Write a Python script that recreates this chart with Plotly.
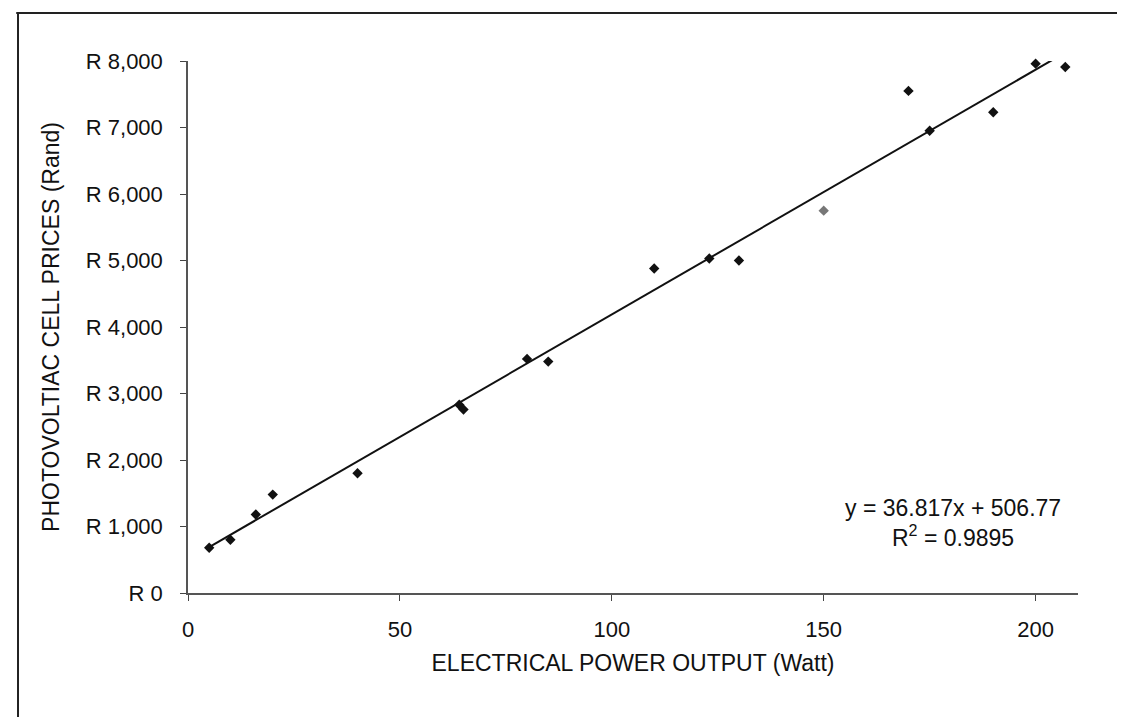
import plotly.graph_objects as go

# Data
power_w = [5, 10, 16, 20, 40, 64, 65, 80, 85, 110, 123, 130, 150, 170, 175, 190, 200, 207]
price_rand = [680, 800, 1180, 1480, 1800, 2830, 2760, 3520, 3480, 4880, 5030, 5000, 5750, 7550, 6950, 7230, 7960, 7910]
point_colors = ["#111111"] * 12 + ["#777777"] + ["#111111"] * 5

slope = 36.817
intercept = 506.77
r_squared = 0.9895

x_ticks = [0, 50, 100, 150, 200]
y_ticks = [0, 1000, 2000, 3000, 4000, 5000, 6000, 7000, 8000]
y_tick_labels = ["R 0", "R 1,000", "R 2,000", "R 3,000", "R 4,000", "R 5,000", "R 6,000", "R 7,000", "R 8,000"]

trend_x = [min(power_w), max(power_w)]
trend_y = [slope * v + intercept for v in trend_x]

font_family = "Liberation Sans, Arial, sans-serif"

fig = go.Figure()
fig.add_trace(go.Scatter(
    x=trend_x, y=trend_y, mode="lines",
    line=dict(color="#111111", width=2), showlegend=False, hoverinfo="skip"))
fig.add_trace(go.Scatter(
    x=power_w, y=price_rand, mode="markers",
    marker=dict(symbol="diamond", size=8, color=point_colors),
    cliponaxis=False, showlegend=False))

fig.add_annotation(
    x=180.5, y=1050, xref="x", yref="y",
    text=f"y = {slope}x + {intercept}<br>R<sup>2</sup> = {r_squared}",
    showarrow=False, align="center",
    font=dict(family=font_family, size=23, color="#111111"))

# Scan border (top and left edges)
fig.add_shape(type="line", xref="paper", yref="paper", x0=-0.193, x1=1.07, y0=1.09, y1=1.09,
              line=dict(color="#222222", width=2))
fig.add_shape(type="line", xref="paper", yref="paper", x0=-0.191, x1=-0.191, y0=1.09, y1=-0.26,
              line=dict(color="#222222", width=2))

fig.update_layout(
    width=1125, height=717,
    margin=dict(l=180, r=55, t=53, b=132),
    paper_bgcolor="white", plot_bgcolor="white",
    font=dict(family=font_family, size=22, color="#111111"),
    xaxis=dict(
        range=[0, 210], tickvals=x_ticks, ticks="outside", ticklen=6, tickcolor="#444444",
        showline=True, linecolor="#555555", linewidth=1.5, showgrid=False, zeroline=False,
        ticklabelstandoff=10,
        title=dict(text="ELECTRICAL POWER OUTPUT (Watt)", standoff=14,
                   font=dict(family=font_family, size=23))),
    yaxis=dict(
        range=[0, 8000], tickvals=y_ticks, ticktext=y_tick_labels, ticks="outside", ticklen=6,
        tickcolor="#444444",
        showline=True, linecolor="#555555", linewidth=1.5, showgrid=False, zeroline=False,
        ticklabelstandoff=13,
        title=dict(text="PHOTOVOLTIAC CELL PRICES (Rand)", standoff=20,
                   font=dict(family=font_family, size=23))),
)

fig.write_html("out.html")
